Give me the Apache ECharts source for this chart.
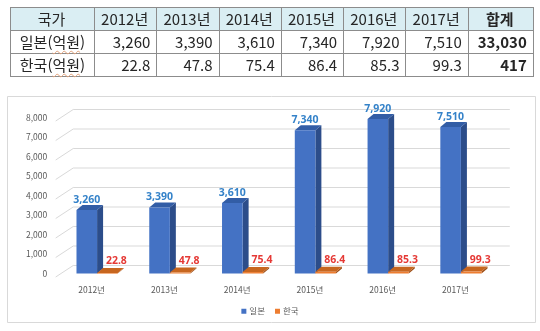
<!DOCTYPE html>
<html lang="ko">
<head>
<meta charset="utf-8">
<script src="https://cdn.jsdelivr.net/npm/echarts@6/dist/echarts.min.js"></script>
<style>
  html, body { margin: 0; padding: 0; background: #fff; }
  #wrap { position: relative; width: 540px; height: 331px; overflow: hidden; }
  #chart { position: absolute; left: 0; top: 0; width: 540px; height: 331px; }
  #tbl {
    position: absolute; left: 10px; top: 7px; z-index: 2;
    border-collapse: collapse; table-layout: fixed;
    font-family: "Noto Sans CJK KR", "Noto Sans", sans-serif; font-size: 15px; color: #262626;
    border: 1px solid #505050;
  }
  #tbl td, #tbl th {
    height: 22px; padding: 0 6px 0 4px; border: 1px solid #8c8c8c;
    line-height: 22px; white-space: nowrap; font-weight: normal;
  }
  #tbl th { background: #daeef3; text-align: center; }
  #tbl th.sum { font-weight: bold; }
  #tbl td { text-align: right; }
  #tbl td.name { text-align: center; padding: 0 2px; }
  #tbl td.sum { font-weight: bold; }
  #tbl .unit { text-decoration: underline wavy #e3a27a; text-decoration-thickness: 1px; text-underline-offset: 2px; }
</style>
</head>
<body>
<div id="wrap">
  <div id="chart"></div>
  <table id="tbl"></table>
</div>
<script>
// 연도별 시장 규모 (단위: 억원)
const years = ['2012년', '2013년', '2014년', '2015년', '2016년', '2017년'];
const japan = [3260, 3390, 3610, 7340, 7920, 7510];
const korea = [22.8, 47.8, 75.4, 86.4, 85.3, 99.3];
const seriesNames = ['일본', '한국'];
const rowLabels = ['일본', '한국'];
const unitLabel = '억원';
const headCorner = '국가';
const headTotal = '합계';
const yTicks = [0, 1000, 2000, 3000, 4000, 5000, 6000, 7000, 8000];

const fmtInt = v => Math.round(v).toLocaleString('en-US');
const fmtDec = v => v.toFixed(1);
const sum = arr => arr.reduce((a, b) => a + b, 0);

// ---- summary table ----
(function buildTable() {
  const t = document.getElementById('tbl');
  const cols = '<colgroup><col style="width:84px">' +
    years.map(() => '<col style="width:62.3px">').join('') +
    '<col style="width:65px"></colgroup>';
  const head = '<tr><th>' + headCorner + '</th>' +
    years.map(y => '<th>' + y + '</th>').join('') +
    '<th class="sum">' + headTotal + '</th></tr>';
  const rows = [[japan, fmtInt], [korea, fmtDec]].map(([vals, f], i) =>
    '<tr><td class="name">' + rowLabels[i] + '(<span class="unit">' + unitLabel + '</span>)</td>' +
    vals.map(v => '<td>' + f(v) + '</td>').join('') +
    '<td class="sum">' + fmtInt(sum(vals)) + '</td></tr>').join('');
  t.innerHTML = cols + head + rows;
})();

// ---- 3D-style column chart ----
const chart = echarts.init(document.getElementById('chart'), null, { renderer: 'canvas' });

// perspective offsets
const WALL_DX = 12.5, WALL_DY = -8;     // back wall relative to bar front plane
const FLOOR_DX = -5, FLOOR_DY = 3.5;    // floor front edge relative to bar front plane
const BAR_DX = 6, BAR_DY = -5;          // bar depth
const BAR_RATIO = 0.283;                // bar width / category width

const palettes = [
  { front: '#4472c4', side: '#2c4d8a', top: '#325da6', label: '#3482c9', lx: 0, ly: -10 },
  { front: '#ed7d31', side: '#9e4f17', top: '#c7661f', label: '#e53935', lx: 9, ly: -12 }
];

function gridRender(params, api) {
  const cs = params.coordSys;
  const y = api.coord([0, api.value(1)])[1];
  return {
    type: 'polyline',
    silent: true,
    shape: {
      points: [
        [cs.x + FLOOR_DX, y + FLOOR_DY],
        [cs.x + WALL_DX, y + WALL_DY],
        [cs.x + cs.width + WALL_DX, y + WALL_DY]
      ]
    },
    style: { stroke: '#d9d9d9', lineWidth: 1, fill: null }
  };
}

function barRender(k) {
  const p = palettes[k];
  return function (params, api) {
    const idx = api.value(0), val = api.value(1);
    const cx = api.coord([idx, 0])[0];
    const yBot = api.coord([idx, 0])[1];
    const yTop = api.coord([idx, val])[1];
    const w = api.size([1, 0])[0] * BAR_RATIO;
    const x0 = k === 0 ? cx - w : cx;
    const x1 = x0 + w;
    const text = k === 0 ? fmtInt(val) : fmtDec(val);
    return {
      type: 'group',
      children: [
        { type: 'polygon', shape: { points: [[x1, yTop], [x1 + BAR_DX, yTop + BAR_DY], [x1 + BAR_DX, yBot + BAR_DY], [x1, yBot]] },
          style: { fill: p.side } },
        { type: 'polygon', shape: { points: [[x0, yTop], [x1, yTop], [x1 + BAR_DX, yTop + BAR_DY], [x0 + BAR_DX, yTop + BAR_DY]] },
          style: { fill: p.top } },
        { type: 'rect', shape: { x: x0, y: yTop, width: w, height: Math.max(yBot - yTop, 0.6) },
          style: { fill: p.front } },
        { type: 'text', style: {
            text: text, x: x0 + w / 2 + p.lx, y: yTop + p.ly,
            align: 'center', verticalAlign: 'middle',
            fill: p.label, font: 'bold 10.5px "Noto Sans", "DejaVu Sans", sans-serif'
          } }
      ]
    };
  };
}

const option = {
  animation: false,
  backgroundColor: 'transparent',
  textStyle: { fontFamily: '"Noto Sans CJK KR", "Noto Sans", sans-serif' },
  graphic: [{
    type: 'rect', silent: true, z: -10,
    shape: { x: 7.5, y: 96.5, width: 528, height: 226 },
    style: { fill: '#fff', stroke: '#d9d9d9', lineWidth: 1 }
  }],
  legend: {
    data: seriesNames,
    left: 'center', top: 302,
    icon: 'rect', itemWidth: 5, itemHeight: 5, itemGap: 10,
    textStyle: { fontSize: 8.5, color: '#595959', padding: [0, 0, 0, -2] }
  },
  grid: { left: 60.7, right: 42.7, top: 117.5, bottom: 57.5 },
  xAxis: {
    type: 'category', data: years,
    axisLine: { show: false }, axisTick: { show: false },
    axisLabel: { color: '#595959', fontSize: 8.5, margin: 12, padding: [0, 11, 0, 0] }
  },
  yAxis: {
    type: 'value', min: yTicks[0], max: yTicks[yTicks.length - 1], interval: yTicks[1] - yTicks[0],
    splitLine: { show: false }, axisLine: { show: false }, axisTick: { show: false },
    axisLabel: { color: '#595959', fontSize: 8.5, margin: 13.5, padding: [7, 0, 0, 0],
      formatter: v => fmtInt(v) }
  },
  series: [
    { type: 'custom', name: '__grid', silent: true, z: 1, renderItem: gridRender,
      data: yTicks.map(v => [0, v]), tooltip: { show: false } },
    { type: 'custom', name: seriesNames[0], z: 2, renderItem: barRender(0),
      itemStyle: { color: palettes[0].front },
      data: japan.map((v, i) => [i, v]) },
    { type: 'custom', name: seriesNames[1], z: 3, renderItem: barRender(1),
      itemStyle: { color: palettes[1].front },
      data: korea.map((v, i) => [i, v]) }
  ]
};
chart.setOption(option);
</script>
</body>
</html>
